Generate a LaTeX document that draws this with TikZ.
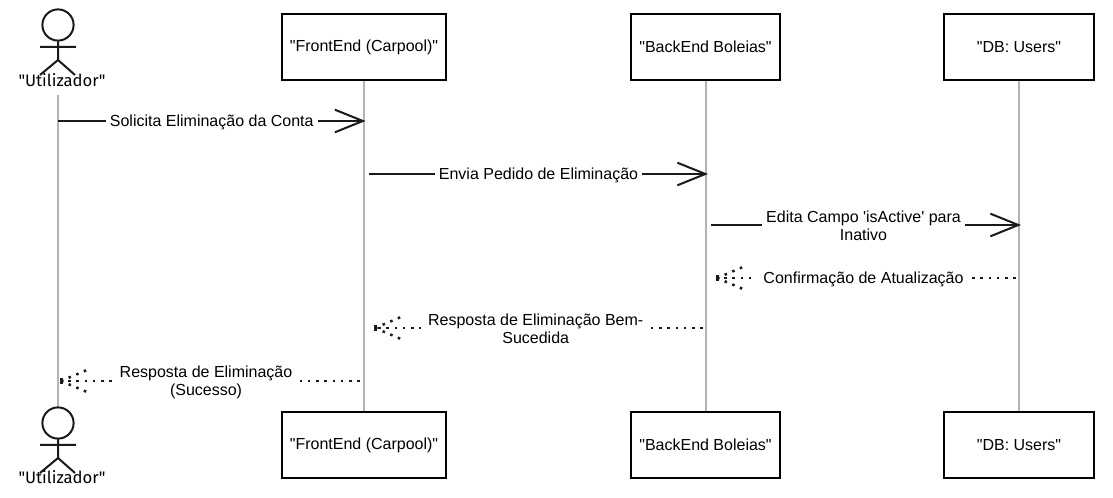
\documentclass[tikz,border=0pt]{standalone}
\usepackage{fontspec}
\setmainfont{Liberation Sans}[Ligatures=TeXOff]
\newfontfamily\handfont{Fira Sans}[Ligatures=TeXOff]
\usetikzlibrary{arrows.meta}
\definecolor{life}{HTML}{B3B3B3}
\definecolor{ink}{HTML}{1A1A1A}
\tikzset{
  lifeline/.style={draw=life,line width=1.5pt},
  box/.style={draw=black,line width=1.5pt,fill=white,minimum height=49.5pt,inner sep=0pt,font=\fontsize{12pt}{13.5pt}\selectfont},
  actorline/.style={draw=ink,line width=1.5pt},
  actorlabel/.style={font=\handfont\fontsize{12.5pt}{14pt}\selectfont,inner sep=0pt,text=black},
  msg/.style={draw=ink,line width=1.5pt,-{Straight Barb[length=21pt,width=17pt,line width=1.5pt]}},
  reply/.style={draw=ink,line width=1.9pt,dash pattern=on 1.9pt off 4.3pt},
  lbl/.style={fill=white,inner sep=3pt,align=center,yshift=-1.2pt,font=\fontsize{12pt}{13.5pt}\selectfont,text=black},
  rlbl/.style={lbl,inner xsep=5.5pt}
}
\newcommand{\actorfig}[2]{%
  \coordinate (#2-head) at (58,#1);
  \draw[actorline] (#2-head) circle[radius=15.6];
  \draw[actorline] (58,#1+15.6) -- (58,#1+35) (40,#1+22) -- (76,#1+22) (40,#1+50) -- (58,#1+35) -- (75,#1+50);
}
\newcommand{\replytip}[1]{%
  \draw[reply] (#1) -- ++(26,-11) (#1) -- ++(26,11);
  \fill[ink] (#1) ++(-1,-3) rectangle ++(3,6);
}
\begin{document}
\begin{tikzpicture}[x=0.75pt,y=-0.75pt]
\useasboundingbox (0,0) rectangle (1113,498);
\coordinate (a1) at (58,95);  \coordinate (a2) at (58,407);
\node[box,minimum width=123pt] (f1) at (364,47) {"FrontEnd (Carpool)"};
\node[box,minimum width=111.75pt] (b1) at (705.5,47) {"BackEnd Boleias"};
\node[box,minimum width=112.5pt] (d1) at (1019,47) {"DB: Users"};
\node[box,minimum width=123pt] (f2) at (364,445) {"FrontEnd (Carpool)"};
\node[box,minimum width=111.75pt] (b2) at (705.5,445) {"BackEnd Boleias"};
\node[box,minimum width=112.5pt] (d2) at (1019,445) {"DB: Users"};
\draw[lifeline] (a1) -- (a2);
\draw[lifeline] (f1) -- (f2);
\draw[lifeline] (b1) -- (b2);
\draw[lifeline] (d1) -- (d2);
\actorfig{25}{top}
\actorfig{423}{bot}
\node[actorlabel] (u1) at (62,80) {"Utilizador"};
\node[actorlabel] (u2) at (62,477) {"Utilizador"};
\coordinate (m1s) at (58,121);  \coordinate (m1e) at (365.5,121);
\coordinate (m2s) at (369,174); \coordinate (m2e) at (708,174);
\coordinate (m3s) at (711,225); \coordinate (m3e) at (1021,225);
\coordinate (m4s) at (1016,278);\coordinate (m4e) at (717,278);
\coordinate (m5s) at (703,328); \coordinate (m5e) at (375,328);
\coordinate (m6s) at (360,381); \coordinate (m6e) at (61,381);
\draw[msg] (m1s) -- node[lbl] (t1) {Solicita Eliminação da Conta} (m1e);
\draw[msg] (m2s) -- node[lbl] (t2) {Envia Pedido de Eliminação} (m2e);
\draw[msg] (m3s) -- node[lbl,yshift=0.9pt,pos=.492] (t3) {Edita Campo 'isActive' para\\Inativo} (m3e);
\draw[reply] (m4s) -- node[rlbl,pos=.51] (t4) {Confirmação de Atualização} (m4e);
\replytip{m4e}
\draw[reply] (m5s) -- node[rlbl,yshift=0.9pt,pos=.51] (t5) {Resposta de Eliminação Bem-\\Sucedida} (m5e);
\replytip{m5e}
\draw[reply] (m6s) -- node[rlbl,pos=.515] (t6) {Resposta de Eliminação\\(Sucesso)} (m6e);
\replytip{m6e}
\end{tikzpicture}
\end{document}
